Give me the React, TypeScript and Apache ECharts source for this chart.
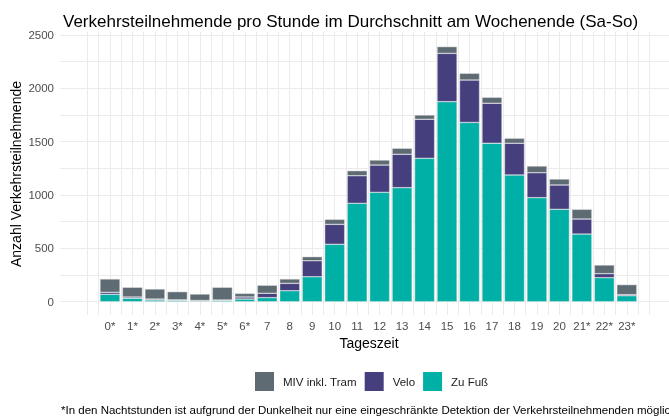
import React, { useEffect, useRef } from "react";
import * as echarts from "echarts";

const hourLabels = ["0*", "1*", "2*", "3*", "4*", "5*", "6*", "7", "8", "9", "10", "11", "12", "13", "14", "15", "16", "17", "18", "19", "20", "21*", "22*", "23*"];
const zuFuss = [69, 32, 16, 12, 8, 12, 25, 38, 103, 234, 538, 922, 1025, 1069, 1344, 1875, 1680, 1485, 1188, 975, 866, 634, 225, 56];
const velo = [19, 12, 9, 5, 3, 4, 19, 41, 69, 150, 187, 259, 256, 313, 366, 453, 398, 375, 297, 234, 228, 141, 38, 10];
const miv = [125, 91, 94, 77, 61, 119, 34, 75, 41, 38, 47, 47, 47, 56, 40, 63, 63, 56, 46, 63, 56, 91, 81, 94];
const seriesNames = ["MIV inkl. Tram", "Velo", "Zu Fuß"];
const colors = { miv: "#5E6B73", velo: "#463F7E", fuss: "#00AFA6" };

const FONT = "'Liberation Sans', Arial, sans-serif";

export default function App() {
  const ref = useRef<HTMLDivElement>(null);
  useEffect(() => {
    if (!ref.current) return;
    const chart = echarts.init(ref.current, undefined, { renderer: "svg" });
    // geometry: category position -1 at 87.5px, 24 at 649.3px
    const s = (649.3 - 87.5) / 25;
    const barsLeft = 87.5 + s * 0.5;
    const border = { borderColor: "rgba(230,230,230,0.9)", borderWidth: 0.5 };
    const grid = { color: "#ebebeb", width: 1 };
    chart.setOption({
      animation: false,
      textStyle: { fontFamily: FONT },
      title: {
        text: "Verkehrsteilnehmende pro Stunde im Durchschnitt am Wochenende (Sa-So)",
        left: 58,
        top: 8,
        textStyle: { fontSize: 17, fontWeight: "normal", color: "#000", fontFamily: FONT },
      },
      legend: {
        data: seriesNames,
        left: 250,
        top: 367,
        icon: "rect",
        itemWidth: 19,
        itemHeight: 19,
        itemGap: 8,
        itemStyle: { borderWidth: 0 },
        textStyle: { fontSize: 11.5, color: "#1a1a1a", fontFamily: FONT, padding: [0, 0, 0, 4] },
      },
      grid: [
        { left: 60, width: 609, top: 35, height: 266.7 },
        { left: 87.5, width: 561.8, top: 32, height: 283 },
        { left: barsLeft, width: s * 24, top: 35, height: 266.7 },
      ],
      xAxis: [
        { type: "value", gridIndex: 0, min: 0, max: 1, show: false, splitLine: { show: false } },
        {
          type: "value",
          gridIndex: 1,
          min: -1,
          max: 24,
          interval: 0.5,
          axisLine: { show: false },
          axisTick: { show: false },
          splitLine: { show: true, lineStyle: grid },
          axisLabel: {
            margin: 5,
            fontSize: 11.5,
            color: "#4d4d4d",
            fontFamily: FONT,
            formatter: (v: number) => (Number.isInteger(v) && v >= 0 && v < hourLabels.length ? hourLabels[v] : ""),
          },
        },
        { type: "category", gridIndex: 2, data: hourLabels, boundaryGap: true, show: false },
      ],
      yAxis: [
        {
          type: "value",
          gridIndex: 0,
          min: 0,
          max: 2500,
          interval: 500,
          axisLine: { show: false },
          axisTick: { show: false },
          axisLabel: { margin: 6, fontSize: 11.5, color: "#4d4d4d", fontFamily: FONT, formatter: (v: number) => String(v) },
          splitLine: { show: true, lineStyle: grid },
          minorTick: { show: false, splitNumber: 2 },
          minorSplitLine: { show: true, lineStyle: grid },
        },
        { type: "value", gridIndex: 1, min: 0, max: 1, show: false, splitLine: { show: false } },
        { type: "value", gridIndex: 2, min: 0, max: 2500, show: false, splitLine: { show: false } },
      ],
      series: [
        { type: "scatter", xAxisIndex: 0, yAxisIndex: 0, data: [], silent: true },
        { type: "scatter", xAxisIndex: 1, yAxisIndex: 1, data: [], silent: true },
        {
          name: "Zu Fuß",
          type: "bar",
          stack: "total",
          xAxisIndex: 2,
          yAxisIndex: 2,
          barWidth: 20,
          itemStyle: { color: colors.fuss, ...border },
          data: zuFuss,
        },
        {
          name: "Velo",
          type: "bar",
          stack: "total",
          xAxisIndex: 2,
          yAxisIndex: 2,
          barWidth: 20,
          itemStyle: { color: colors.velo, ...border },
          data: velo,
        },
        {
          name: "MIV inkl. Tram",
          type: "bar",
          stack: "total",
          xAxisIndex: 2,
          yAxisIndex: 2,
          barWidth: 20,
          itemStyle: { color: colors.miv, ...border },
          data: miv,
        },
      ],
      graphic: [
        {
          type: "text",
          x: 16,
          y: 174,
          rotation: Math.PI / 2,
          style: { text: "Anzahl Verkehrsteilnehmende", fontSize: 14, fill: "#000", fontFamily: FONT, align: "center", verticalAlign: "middle" },
        },
        {
          type: "text",
          x: 369,
          y: 343,
          style: { text: "Tageszeit", fontSize: 14, fill: "#000", fontFamily: FONT, align: "center", verticalAlign: "middle" },
        },
        {
          type: "text",
          x: 61,
          y: 410,
          style: {
            text: "*In den Nachtstunden ist aufgrund der Dunkelheit nur eine eingeschränkte Detektion der Verkehrsteilnehmenden möglich",
            fontSize: 11.5,
            fill: "#000",
            fontFamily: FONT,
            align: "left",
            verticalAlign: "middle",
          },
        },
      ],
    });
    return () => chart.dispose();
  }, []);
  return <div ref={ref} style={{ position: "fixed", left: 0, top: 0, width: 669, height: 419 }} />;
}
